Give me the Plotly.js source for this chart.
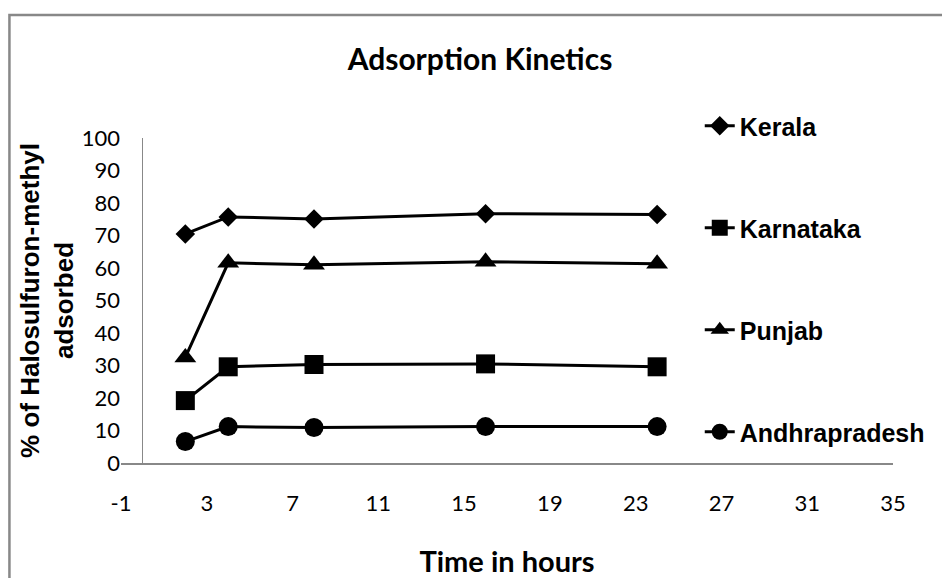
<!DOCTYPE html>
<html>
<head>
<meta charset="utf-8">
<script src="https://cdn.plot.ly/plotly-3.0.1.min.js"></script>
<style>
  html, body { margin: 0; padding: 0; background: #fff; }
  #chart { width: 942px; height: 578px; }
</style>
</head>
<body>
<div id="chart"></div>
<script>
// Data
const hours = [2, 4, 8, 16, 24];
const seriesNames = ["Kerala", "Karnataka", "Punjab", "Andhrapradesh"];
const kerala = [70.5, 75.7, 75.1, 76.7, 76.5];
const karnataka = [19.2, 29.6, 30.3, 30.5, 29.6];
const punjab = [32.5, 61.6, 61.0, 61.9, 61.3];
const andhrapradesh = [6.6, 11.2, 10.9, 11.2, 11.2];
const xTickVals = [-1, 3, 7, 11, 15, 19, 23, 27, 31, 35];
const xTickLabels = ["-1", "3", "7", "11", "15", "19", "23", "27", "31", "35"];
const symbols = ["diamond", "square", "triangle-up", "circle"];
const markerSizes = [15, 19, 19, 19];

const values = [kerala, karnataka, punjab, andhrapradesh];

const traces = values.map((v, i) => ({
  x: hours,
  y: v,
  name: seriesNames[i],
  type: "scatter",
  mode: "lines+markers",
  legendgroup: "g" + i,
  line: { color: "#000000", width: 3 },
  marker: { symbol: symbols[i], size: markerSizes[i], color: "#000000" }
}));

const L = 121, R = 46, T = 138, B = 115;
const W = 942, H = 578;
const pw = W - L - R, ph = H - T - B;
const px = p => (p - L) / pw;
const py = p => (H - B - p) / ph;

const layout = {
  width: W,
  height: H,
  margin: { l: L, r: R, t: T, b: B },
  paper_bgcolor: "#ffffff",
  plot_bgcolor: "#ffffff",
  showlegend: true,
  title: {
    text: "Adsorption Kinetics",
    font: { family: "Lato, 'Open Sans', sans-serif", size: 30, color: "#000", weight: 700 },
    x: 480 / W, xanchor: "center",
    y: 1 - 59 / H, yanchor: "middle"
  },
  xaxis: {
    range: [-1, 35],
    tickmode: "array",
    tickvals: xTickVals,
    ticktext: xTickLabels,
    showgrid: false,
    showline: true,
    linecolor: "#888888",
    linewidth: 1.5,
    zeroline: true,
    zerolinecolor: "#888888",
    zerolinewidth: 1.5,
    ticks: "",
    ticklabelstandoff: 20,
    tickfont: { family: "Lato, 'Open Sans', sans-serif", size: 22, color: "#000" },
    title: {
      text: "Time in hours",
      font: { family: "Lato, 'Open Sans', sans-serif", size: 29, color: "#000", weight: 700 },
      standoff: 42
    },
    automargin: false
  },
  yaxis: {
    range: [0, 100],
    dtick: 10,
    showgrid: false,
    showline: false,
    zeroline: false,
    ticks: "",
    tickfont: { family: "Lato, 'Open Sans', sans-serif", size: 22, color: "#000" },
    title: {
      text: "% of Halosulfuron-methyl<br>adsorbed",
      font: { family: "'Liberation Sans', Arial, sans-serif", size: 26, color: "#000", weight: 700 },
      standoff: 0
    },
    automargin: false
  },
  legend: {
    x: px(702), xanchor: "left",
    y: py(103), yanchor: "top",
    traceorder: "grouped",
    tracegroupgap: 66.5,
    maxheight: 560,
    bgcolor: "rgba(0,0,0,0)",
    font: { family: "'Liberation Sans', Arial, sans-serif", size: 25, color: "#000", weight: 700 }
  },
  shapes: [{
    type: "rect",
    xref: "paper", yref: "paper",
    x0: px(9), x1: px(980),
    y0: py(620), y1: py(15),
    line: { color: "#888888", width: 2.5 },
    fillcolor: "rgba(0,0,0,0)",
    layer: "below"
  }]
};

Plotly.newPlot("chart", traces, layout, { displayModeBar: false, staticPlot: true });
</script>
</body>
</html>
